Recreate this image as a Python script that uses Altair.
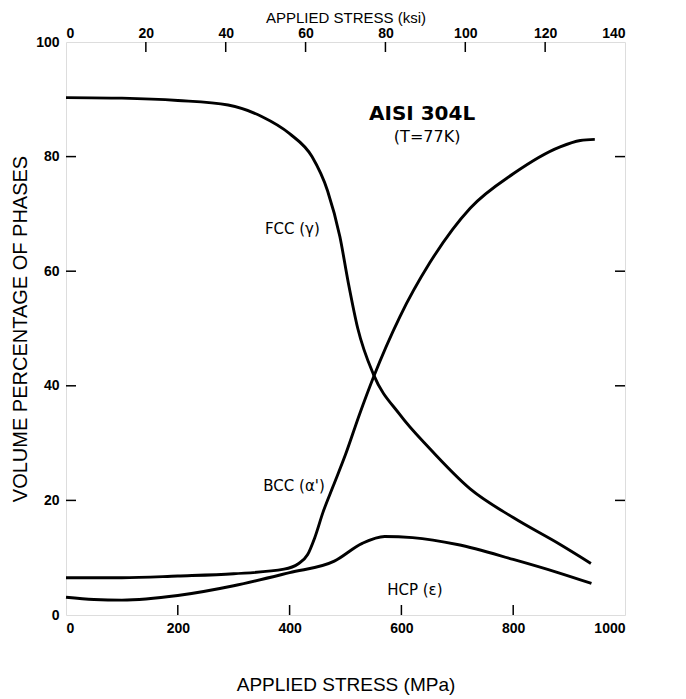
import altair as alt
import pandas as pd

# ---- data ----
fcc_mpa = [0, 100, 200, 290, 350, 400, 440, 468, 490, 505, 522, 550, 597, 651, 723, 800, 884, 939]
fcc_pct = [90.3, 90.2, 89.8, 89.0, 87.0, 84.0, 80.0, 74.0, 66.0, 58.0, 50.0, 42.0, 35.0, 29.0, 22.0, 17.0, 12.3, 9.0]

bcc_mpa = [0, 100, 200, 300, 390, 415, 432, 445, 460, 478, 500, 525, 550, 597, 651, 723, 800, 884, 920, 946]
bcc_pct = [6.5, 6.5, 6.8, 7.2, 8.0, 8.9, 10.5, 13.5, 18.0, 22.5, 28.0, 35.0, 41.5, 52.0, 61.5, 71.0, 77.0, 81.7, 82.8, 83.0]

hcp_mpa = [0, 50, 100, 200, 300, 400, 480, 530, 570, 620, 700, 800, 880, 940]
hcp_pct = [3.1, 2.7, 2.6, 3.4, 5.1, 7.4, 9.4, 12.5, 13.7, 13.5, 12.3, 9.7, 7.4, 5.5]

mpa_ticks = [0, 200, 400, 600, 800, 1000]
ksi_ticks = [0, 20, 40, 60, 80, 100, 120, 140]
pct_ticks = [0, 20, 40, 60, 80, 100]

inner_mpa = [200, 400, 600, 800]
inner_ksi = [20, 40, 60, 80, 100, 120]
inner_pct = [20, 40, 60, 80]

big_text = ["AISI 304L"]
big_x = [637]
big_y = [87.4]
mid_text = ["(T=77K)"]
mid_x = [646]
mid_y = [83.4]
lab_text = ["FCC (\u03b3)", "BCC (\u03b1')", "HCP (\u03b5)"]
lab_x = [405, 408, 624]
lab_y = [67.3, 22.6, 4.3]

W, H = 559, 573
TL = 10
LBL = "Liberation Sans, Arial, sans-serif"
DJ = "DejaVu Sans, sans-serif"

rows = []
for name, xs_, ys_ in [("FCC", fcc_mpa, fcc_pct), ("BCC", bcc_mpa, bcc_pct), ("HCP", hcp_mpa, hcp_pct)]:
    for i, (a, b) in enumerate(zip(xs_, ys_)):
        rows.append({"series": name, "mpa": a, "pct": b, "order": i})
curves = pd.DataFrame(rows)

xs = alt.Scale(domain=[0, 1000], nice=False, zero=False)
ys = alt.Scale(domain=[0, 100], nice=False, zero=False)

x_axis = alt.Axis(values=mpa_ticks, tickSize=0, domain=False, grid=False,
                  labelFont=LBL, labelFontSize=14, labelFontWeight="bold", labelColor="black",
                  labelPadding=6, title="APPLIED STRESS (MPa)", titleFont=LBL, titleFontSize=19,
                  titleFontWeight="normal", titleColor="black", titlePadding=40, format="d")
y_axis = alt.Axis(values=pct_ticks, tickSize=0, domain=False, grid=False,
                  labelFont=LBL, labelFontSize=14, labelFontWeight="bold", labelColor="black",
                  labelPadding=7, title="VOLUME PERCENTAGE OF PHASES", titleFont=LBL, titleFontSize=20,
                  titleFontWeight="normal", titleColor="black", titlePadding=5, format="d")

lines = alt.Chart(curves).mark_line(color="black", strokeWidth=2.9, interpolate="monotone").encode(
    x=alt.X("mpa:Q", scale=xs, axis=x_axis),
    y=alt.Y("pct:Q", scale=ys, axis=y_axis),
    detail="series:N",
    order="order:Q",
)

t1 = alt.Chart(pd.DataFrame({"t": big_text, "x": big_x, "y": big_y})).mark_text(
    font=DJ, fontSize=20, fontWeight="bold", color="black").encode(
    x=alt.X("x:Q", scale=xs, axis=x_axis), y=alt.Y("y:Q", scale=ys, axis=y_axis), text="t:N")
t2 = alt.Chart(pd.DataFrame({"t": mid_text, "x": mid_x, "y": mid_y})).mark_text(
    font=DJ, fontSize=16, color="black").encode(
    x=alt.X("x:Q", scale=xs, axis=x_axis), y=alt.Y("y:Q", scale=ys, axis=y_axis), text="t:N")
t3 = alt.Chart(pd.DataFrame({"t": lab_text, "x": lab_x, "y": lab_y})).mark_text(
    font=DJ, fontSize=15, color="black").encode(
    x=alt.X("x:Q", scale=xs, axis=x_axis), y=alt.Y("y:Q", scale=ys, axis=y_axis), text="t:N")

left_t = alt.Chart(pd.DataFrame({"v": inner_pct})).mark_rule(color="black", strokeWidth=1.5).encode(
    y=alt.Y("v:Q", scale=ys, axis=y_axis), x=alt.value(0), x2=alt.value(TL))
right_t = alt.Chart(pd.DataFrame({"v": inner_pct})).mark_rule(color="black", strokeWidth=1.5).encode(
    y=alt.Y("v:Q", scale=ys, axis=y_axis), x=alt.value(W - TL), x2=alt.value(W))
bottom_t = alt.Chart(pd.DataFrame({"v": inner_mpa})).mark_rule(color="black", strokeWidth=1.5).encode(
    x=alt.X("v:Q", scale=xs, axis=x_axis), y=alt.value(H - TL), y2=alt.value(H))

mpa_layer = alt.layer(lines, t1, t2, t3, left_t, right_t, bottom_t)

ksi_axis = alt.Axis(values=ksi_ticks, orient="top", tickSize=0, domain=False, grid=False,
                    labelFont=LBL, labelFontSize=14, labelFontWeight="bold", labelColor="black",
                    labelPadding=2, title="APPLIED STRESS (ksi)", titleFont=LBL, titleFontSize=15,
                    titleFontWeight="normal", titleColor="black", titlePadding=1, format="d")
top_t = alt.Chart(pd.DataFrame({"v": inner_ksi})).mark_rule(color="black", strokeWidth=1.5).encode(
    x=alt.X("v:Q", scale=alt.Scale(domain=[0, 140], nice=False, zero=False), axis=ksi_axis),
    y=alt.value(0), y2=alt.value(TL))

chart = alt.layer(mpa_layer, top_t).resolve_scale(x="independent").properties(
    width=W, height=H,
    padding={"left": 58, "top": 34, "right": 40, "bottom": 84},
    autosize=alt.AutoSizeParams(type="none"),
).configure_view(stroke="black", strokeWidth=2).configure(background="white")

chart.save("out.html", embed_options={"renderer": "svg", "actions": False})
